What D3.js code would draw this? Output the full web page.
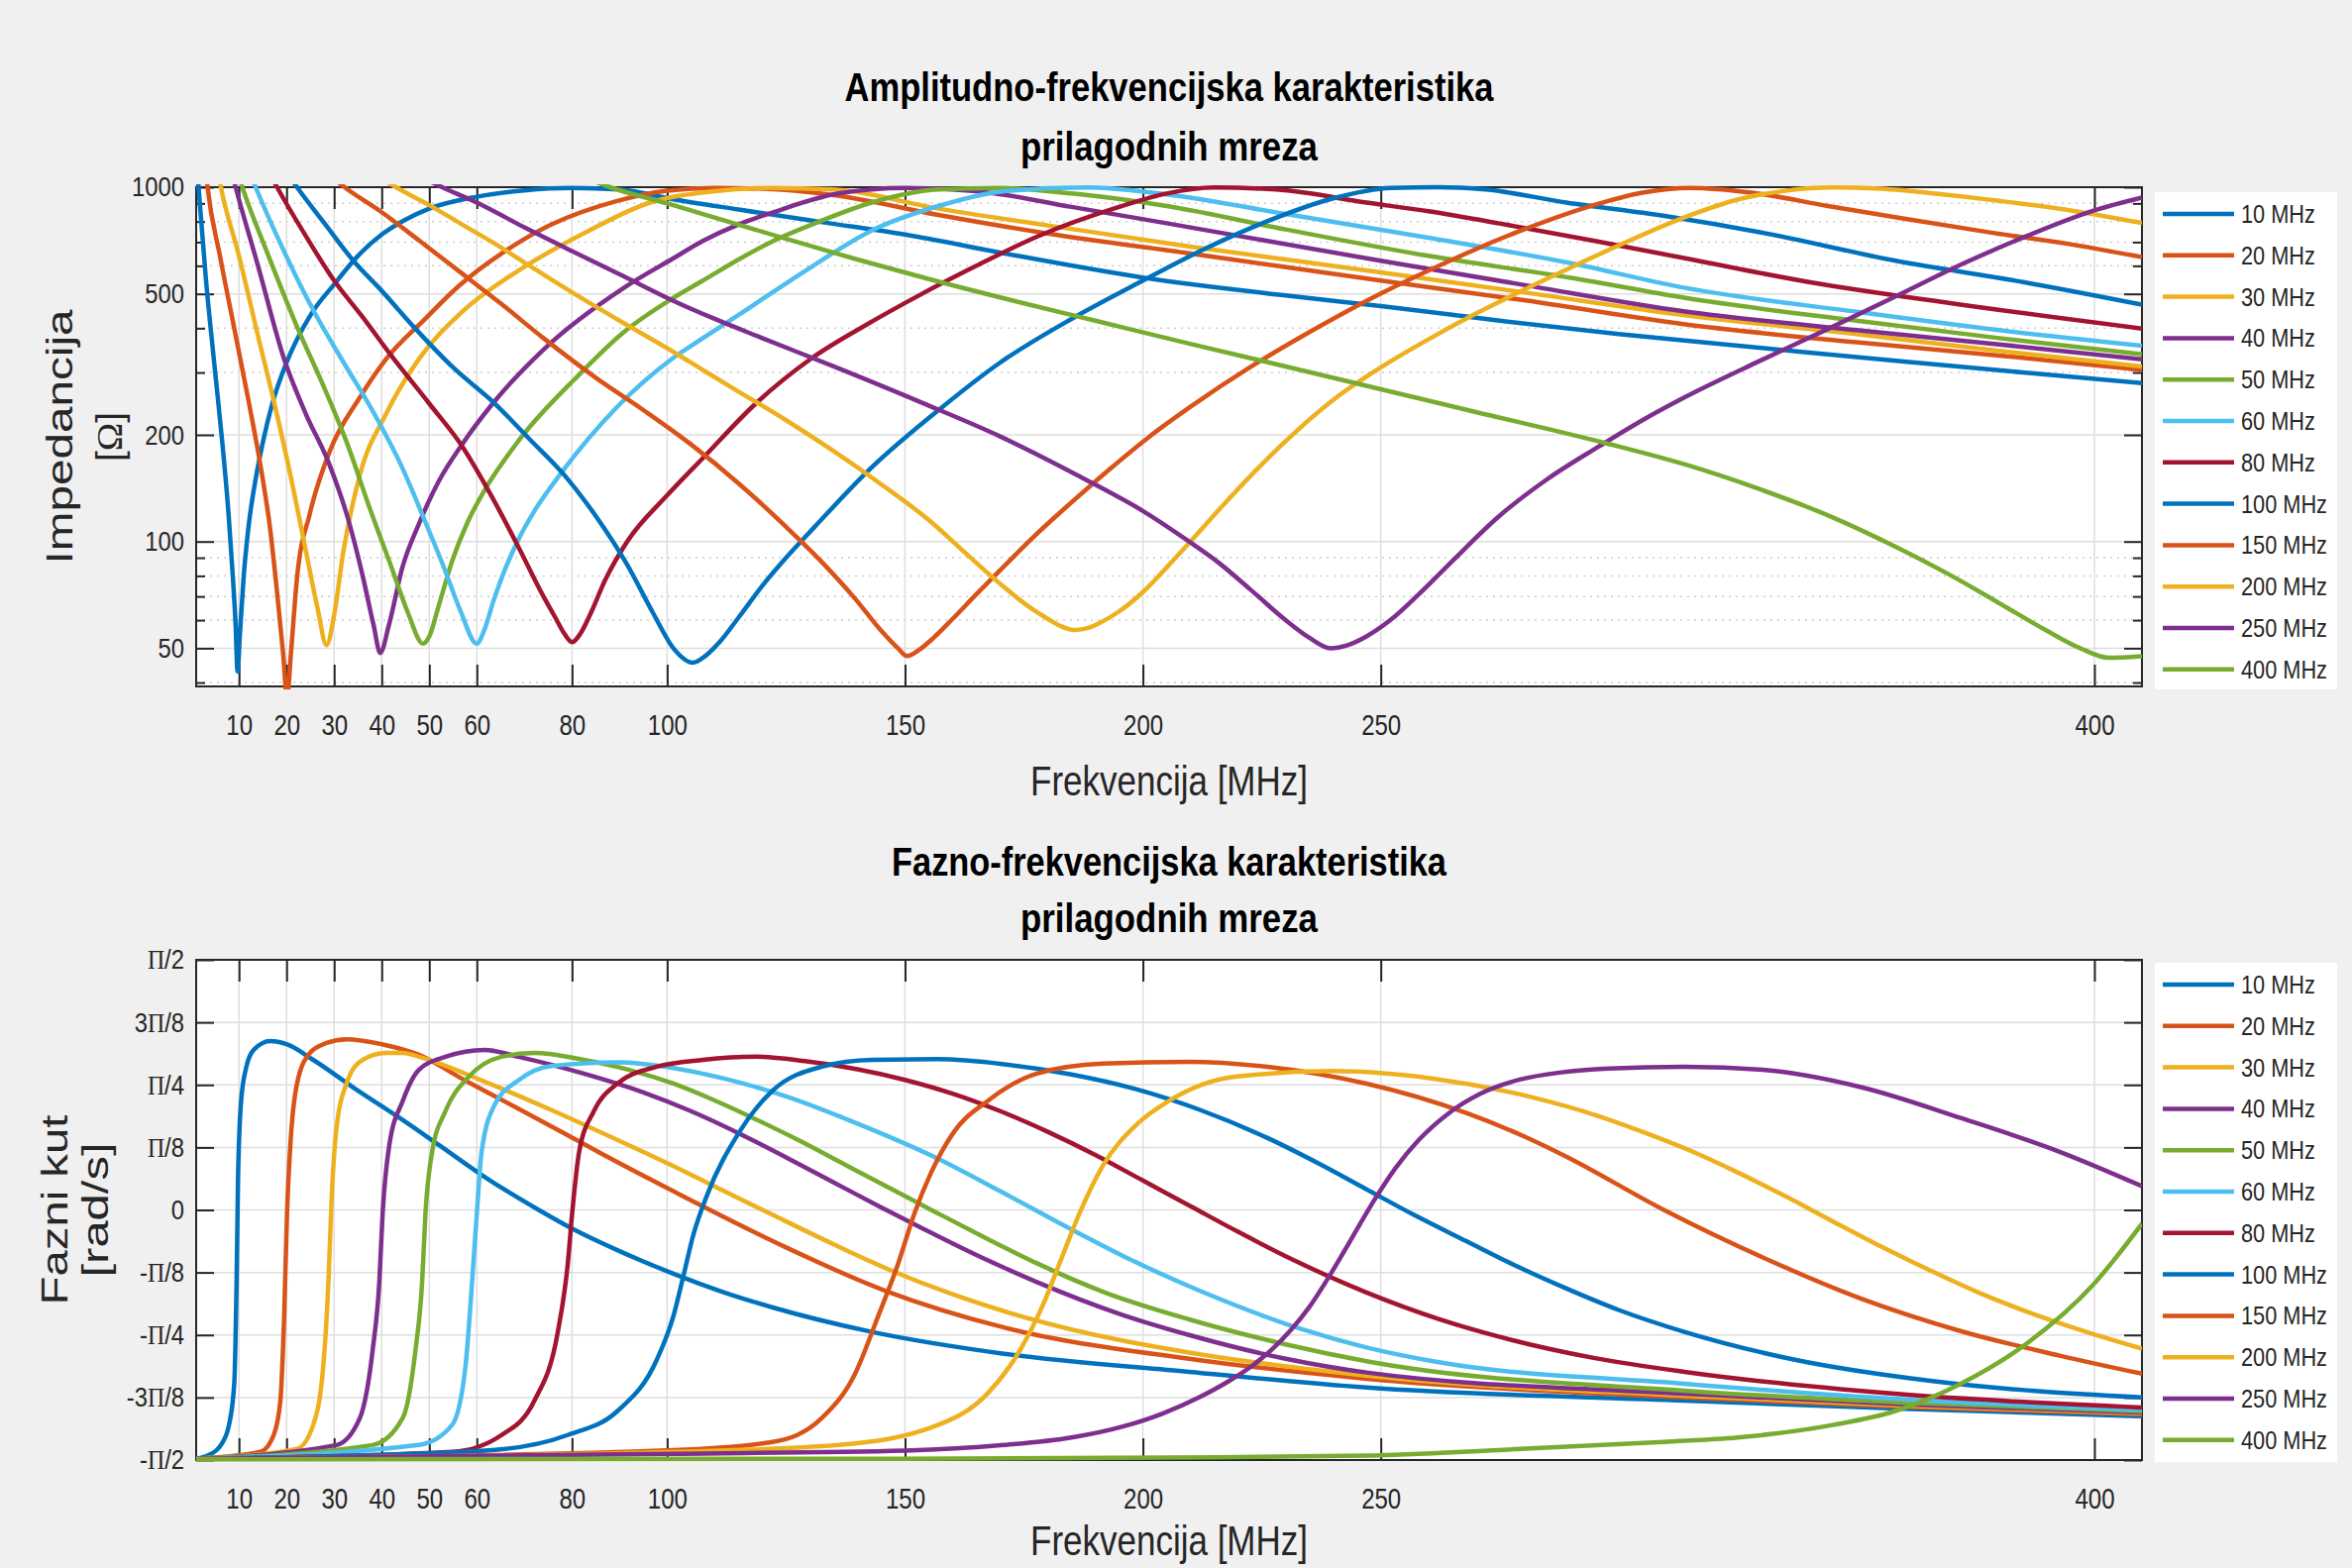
<!DOCTYPE html>
<html>
<head>
<meta charset="utf-8">
<script src="https://cdn.jsdelivr.net/npm/d3@7"></script>
<style>
  html, body { margin: 0; padding: 0; background: #f0f0f0; }
  svg { display: block; }
</style>
</head>
<body>
<svg id="chart" width="2374" height="1583"></svg>
<script>
// Matching networks: impedance magnitude (log) and phase vs frequency.
// Two stacked panels, 12 designs, MATLAB-style colours and grid.

const LABELS = ['10 MHz', '20 MHz', '30 MHz', '40 MHz', '50 MHz', '60 MHz',
  '80 MHz', '100 MHz', '150 MHz', '200 MHz', '250 MHz', '400 MHz'];
const COLORS = ['#0072BD', '#D95319', '#EDB120', '#7E2F8E', '#77AC30', '#4DBEEE',
  '#A2142F', '#0072BD', '#D95319', '#EDB120', '#7E2F8E', '#77AC30'];

const X_TICKS = [10, 20, 30, 40, 50, 60, 80, 100, 150, 200, 250, 400];
const Z_TICKS = [50, 100, 200, 500, 1000];
const Z_MINOR = [40, 60, 70, 80, 90, 300, 400, 600, 700, 800, 900];
// phase ticks in eighths of pi
const PH_TICKS = [-4, -3, -2, -1, 0, 1, 2, 3, 4];
const PH_LABELS = ['-Π/2', '-3Π/8', '-Π/4', '-Π/8', '0', 'Π/8', 'Π/4', '3Π/8', 'Π/2'];

// |Z| in ohm, [MHz, ohm]
const mag10 = [[1,1250],[1.5,1000],[3,560],[5,300],[6.5,190],[7.8,120],[8.7,80],[9.3,58],[9.7,43],[10.2,55],[11,80],[12,110],[13.5,150],[15,190],[17,245],[20,320],[25,435],[30,532],[35,640],[40,735],[45,810],[50,870],[60,940],[70,980],[80,995],[90,985],[101,926],[115,865],[133,795],[150,735],[171,650],[200,556],[230,495],[250,462],[275,420],[300,385],[330,352],[360,322],[385,300],[410,280]];
const mag20 = [[1,2500],[3.4,1000],[6,640],[9,400],[12,250],[15,150],[16.5,110],[18,72],[19.3,48],[20.1,36],[20.9,48],[22.2,79],[24.9,120],[29.1,180],[35.4,255],[40.9,327],[49.2,426],[56.2,526],[65.2,650],[75.6,784],[89.5,915],[100,978],[110,995],[120,990],[135,950],[157,835],[180,740],[210,650],[250,545],[280,480],[314,410],[350,365],[380,335],[410,305]];
const mag30 = [[1,3000],[6.2,1000],[10,640],[14,380],[17.3,250],[21,150],[24,95],[26.5,65],[28.4,51],[30,62],[31.9,93],[35.4,154],[40.9,229],[47.8,327],[56.9,445],[68.7,581],[82.5,741],[96.4,905],[110,975],[122,995],[135,985],[157,870],[180,780],[210,680],[250,575],[280,505],[314,435],[350,385],[380,345],[410,312]];
const mag40 = [[1,3000],[9.3,1000],[14,600],[19.4,330],[24,230],[29,165],[33,115],[36,80],[38.3,58],[39.7,48.5],[41.5,58],[44.4,85],[47.8,112],[52,148],[56.9,188],[63.1,243],[74.2,350],[90.9,520],[101.3,630],[107.5,705],[115,785],[122,847],[136,960],[150,995],[165,975],[185,880],[210,770],[250,620],[280,530],[314,446],[350,395],[380,360],[410,327]];
const mag50 = [[1,3000],[10.7,1000],[16,650],[22,410],[28,270],[33,185],[37.4,125],[42,85],[45.5,63],[48.7,51.5],[50,54],[52,66],[54.8,88],[58,113],[61.7,140],[68.7,192],[81.2,293],[90.9,390],[101.3,487],[107.5,545],[115,625],[122,702],[132,800],[143,905],[157,985],[170,995],[185,960],[205,885],[230,760],[260,640],[290,555],[314,487],[350,420],[380,375],[410,338]];
const mag60 = [[1,3000],[13.5,1000],[19,680],[25.6,450],[32,320],[38,235],[44,165],[49,115],[53,85],[56.5,64],[60,51.5],[61.5,56],[63.5,68],[66,84],[69,103],[72.1,122],[77.7,156],[89.5,240],[101.3,330],[107.5,375],[115,436],[129,580],[143,755],[157,885],[171,975],[188,998],[205,955],[230,840],[260,720],[290,610],[314,520],[350,445],[380,395],[410,357]];
const mag80 = [[1,3000],[18,1000],[24,730],[30,545],[36,430],[42,335],[50,245],[57,185],[63,135],[69,95],[74,70],[76.5,61],[78.3,55.2],[80,52],[81.7,54.8],[84,63],[87,78],[91.6,100],[100,135],[107.5,172],[118.6,245],[130.5,330],[142,410],[152.7,493],[165,600],[177.7,725],[195,880],[205,960],[215,998],[228,985],[247,905],[260,855],[275,790],[295,705],[314,630],[340,540],[370,470],[410,399]];
const mag100 = [[1,3000],[22.2,1000],[28,790],[34,621],[40,510],[47,400],[55,310],[63.8,245],[71,195],[78.4,154],[85,118],[91.6,86],[97,63],[101.3,50],[105.4,45.5],[108,47.5],[111,52],[115,61],[120,75],[125,90],[131,110],[142.6,160],[157.9,240],[170,320],[185,425],[200,545],[213,670],[226,800],[240,930],[252,995],[262,1000],[272,985],[289,905],[310,828],[330,745],[358,621],[385,540],[410,466]];
const mag150 = [[1,3000],[32.2,1000],[40,850],[48,705],[56.2,580],[65,470],[74,375],[85,290],[95,235],[105,188],[115,146],[125,110],[132,89],[139.5,69],[145,56],[148.5,50],[150.4,47.5],[153,49.5],[156,53.5],[160,60.5],[165,71],[170,83],[177,103],[185,129],[193,160],[201,196],[210,240],[222.8,312],[235,390],[247,478],[261,590],[279,750],[296,900],[305,965],[315,995],[328,965],[344,885],[360,815],[379,742],[395,690],[410,635]];
const mag200 = [[1,3000],[43,1000],[50,890],[56.9,785],[64,690],[70.7,605],[80,505],[90,420],[101.3,343],[107.5,305],[115,265],[125,220],[135,180],[145,145],[155,115],[163,92],[170,76],[176,65.5],[180,60.5],[183,57.5],[185.5,56.3],[188,56.8],[191,59],[195,63.5],[200,72],[205,84.5],[210,100],[216,123],[223,155],[230,192],[240,251],[250,310],[260,372],[270,440],[280,513],[290,594],[300,685],[314,824],[325,923],[335,977],[345,998],[355,990],[368,955],[380,915],[395,860],[410,793]];
const mag250 = [[1,3000],[52.7,1000],[60,905],[70,770],[80,660],[90.9,560],[101.3,478],[110,425],[120,375],[135,312],[153.7,246],[170,198],[187,152],[200,122],[209.7,100],[216,87],[222.7,73],[230,60],[235,53.5],[239.4,50],[243,51],[247,54],[252,60],[258,71],[265,88],[274.9,118],[285,150],[295.7,185],[305,220],[313.8,255],[330,325],[344,398],[358,490],[372,605],[386,730],[400,860],[410,935]];
const mag400 = [[1,3000],[60,1500],[88,1000],[101.3,890],[107.5,840],[125,715],[140,625],[156.2,545],[175,470],[190,420],[209.7,362],[230,312],[247,275],[270,232],[297,190],[314,165],[330,140],[345,117],[358,97],[370,80],[380,67],[390,56],[397,50],[403,47],[410,47.5]];

// phase, [MHz, eighths of pi]
const ph10 = [[1,-3.98],[3.4,-3.93],[6.2,-3.76],[7.9,-3.44],[9.0,-2.78],[9.5,-1.14],[9.8,0.49],[10.4,1.69],[11.4,2.24],[13.1,2.56],[16.6,2.70],[20,2.65],[25.6,2.40],[34,1.96],[44.4,1.44],[52,1.04],[62.4,0.49],[73,0],[80.8,-0.33],[90,-0.66],[101.3,-1.02],[112,-1.32],[122.2,-1.56],[143,-1.95],[170.8,-2.3],[209.7,-2.59],[247,-2.84],[313.8,-3.05],[360,-3.18],[410,-3.3]];
const ph20 = [[1,-3.98],[14.5,-3.87],[17.3,-3.6],[18.7,-3.05],[19.5,-1.69],[20.1,-0.05],[20.8,1.04],[22.2,2.02],[24.9,2.51],[28.4,2.67],[32.6,2.73],[40,2.65],[47.8,2.48],[58,2.05],[68.7,1.62],[78,1.24],[86.7,0.88],[101.3,0.3],[110,-0.04],[125,-0.6],[146.1,-1.3],[170.8,-1.88],[209.7,-2.38],[247,-2.7],[313.8,-3.0],[360,-3.15],[410,-3.27]];
const ph30 = [[1,-3.98],[22.2,-3.82],[25.6,-3.44],[27.7,-2.51],[28.8,-1.15],[29.5,0.22],[30.5,1.31],[32.6,2.02],[36,2.4],[40.9,2.51],[44.4,2.51],[47.8,2.45],[61.7,2.05],[75.6,1.6],[89.5,1.12],[101.3,0.7],[112,0.3],[122.2,-0.08],[135,-0.55],[146.5,-0.95],[160,-1.35],[170.8,-1.62],[190,-2.0],[209.7,-2.28],[247,-2.65],[313.8,-2.97],[360,-3.13],[410,-3.25]];
const ph40 = [[1,-3.98],[30.5,-3.76],[35.4,-3.33],[38.1,-2.24],[39.5,-1.15],[40.2,-0.05],[41.6,1.04],[44.4,1.74],[47.8,2.24],[53.4,2.45],[61.7,2.56],[68.7,2.45],[82.5,2.18],[95,1.88],[105,1.58],[115.2,1.22],[125,0.84],[135,0.44],[145,0.04],[153.3,-0.28],[165,-0.72],[177.6,-1.15],[195,-1.66],[209.7,-2.0],[230,-2.38],[247,-2.6],[313.8,-2.94],[360,-3.11],[410,-3.24]];
const ph50 = [[1,-3.98],[38.1,-3.76],[44.4,-3.33],[47.1,-2.24],[48.5,-1.15],[49.2,-0.05],[50.6,0.93],[53.4,1.58],[58.3,2.13],[65.2,2.45],[72.1,2.51],[82.5,2.4],[92,2.24],[101.3,2.02],[110,1.75],[118.6,1.45],[128,1.1],[136,0.78],[146,0.38],[156.8,-0.05],[167,-0.45],[177.6,-0.85],[192,-1.32],[209.7,-1.75],[230,-2.15],[247,-2.42],[313.8,-2.89],[360,-3.08],[410,-3.22]];
const ph60 = [[1,-3.98],[47.8,-3.76],[54.8,-3.44],[57.6,-2.51],[59,-1.15],[60,-0.05],[61,0.93],[63.8,1.69],[68.7,2.07],[75.6,2.3],[89.5,2.36],[101.3,2.27],[112,2.1],[125.6,1.8],[140,1.38],[156.9,0.82],[170,0.3],[184.7,-0.3],[197,-0.78],[209.7,-1.22],[222,-1.6],[233.1,-1.9],[247,-2.2],[261,-2.42],[313.8,-2.78],[360,-3.03],[410,-3.2]];
const ph80 = [[1,-3.98],[54.8,-3.87],[65.2,-3.6],[72.1,-3.05],[77,-1.96],[79.1,-0.87],[80.1,0],[81.5,0.93],[84.6,1.58],[89.5,2.02],[97.8,2.29],[107.5,2.4],[118.6,2.45],[129,2.38],[140,2.25],[150,2.08],[160,1.86],[170,1.58],[180,1.25],[190,0.88],[200,0.47],[210,0.06],[220,-0.35],[230,-0.74],[247,-1.32],[262,-1.74],[275,-2.03],[295,-2.37],[313.8,-2.59],[358,-2.94],[410,-3.16]];
const ph100 = [[1,-3.98],[61.7,-3.85],[79.1,-3.6],[89.5,-3.22],[97.8,-2.4],[101.3,-1.7],[103.4,-1.06],[105.5,-0.4],[108.3,0.22],[115.2,1.25],[122.2,1.91],[132.5,2.29],[143,2.4],[156.9,2.41],[170.8,2.33],[184.7,2.17],[198.6,1.93],[212,1.6],[226.2,1.15],[237,0.74],[247,0.33],[257,-0.08],[268,-0.5],[278,-0.88],[288.8,-1.25],[300,-1.6],[313.8,-1.95],[337.3,-2.4],[365.1,-2.73],[410,-3.0]];
const ph150 = [[1,-3.98],[101.3,-3.84],[122.2,-3.71],[132.5,-3.33],[139.5,-2.62],[144.4,-1.69],[148.5,-0.87],[152,-0.05],[155.5,0.6],[160.3,1.25],[167.3,1.74],[177.7,2.18],[191.6,2.34],[209.7,2.37],[226.2,2.29],[247,2.02],[268,1.55],[280,1.18],[288.8,0.86],[309.5,0],[330.3,-0.76],[351,-1.42],[372,-1.94],[392.7,-2.33],[410,-2.62]];
const ph200 = [[1,-3.98],[101.3,-3.87],[136,-3.76],[156.9,-3.44],[167.3,-2.94],[174.2,-2.24],[179.1,-1.5],[182.5,-0.85],[186.7,-0.05],[191.6,0.71],[198.6,1.36],[205.4,1.74],[219.3,2.13],[240,2.22],[261,2.1],[281.9,1.8],[295,1.52],[305,1.25],[315,0.95],[325,0.6],[335,0.22],[344.2,-0.15],[355,-0.58],[365,-0.95],[375,-1.3],[385.9,-1.63],[397,-1.92],[410,-2.22]];
const ph250 = [[1,-3.98],[101.3,-3.9],[150,-3.85],[170.8,-3.76],[185,-3.64],[196,-3.46],[204,-3.26],[212,-2.99],[218,-2.74],[223,-2.49],[227,-2.24],[231,-1.93],[235,-1.55],[239.5,-1.02],[244,-0.44],[248.5,0.14],[253,0.66],[258,1.12],[264,1.53],[271,1.86],[279,2.08],[288,2.2],[298,2.26],[313.8,2.29],[330.3,2.24],[351.1,1.96],[371.9,1.47],[392.7,0.93],[410,0.38]];
const ph400 = [[1,-3.99],[150,-3.98],[205.4,-3.96],[247,-3.93],[274.9,-3.84],[309.5,-3.71],[325,-3.64],[345,-3.44],[358,-3.22],[371.9,-2.78],[385.9,-2.13],[399.7,-1.2],[410,-0.22]];

const MAG = [mag10, mag20, mag30, mag40, mag50, mag60, mag80, mag100, mag150, mag200, mag250, mag400];
const PHASE = [ph10, ph20, ph30, ph40, ph50, ph60, ph80, ph100, ph150, ph200, ph250, ph400];

const W = 2374, H = 1583;
const INK = '#262626';
const FONT = "'Liberation Sans', Arial, Helvetica, sans-serif";
const SERIF = "'Liberation Serif', 'DejaVu Serif', serif";

const svg = d3.select('#chart');
svg.append('rect').attr('width', W).attr('height', H).attr('fill', '#f0f0f0');

const x = d3.scaleLinear().domain([1, 410]).range([198, 2162]);

// greek letters come out of TeX in the original, so set them in a serif face
function richText(sel, str) {
  str.split(/([ΠΩ])/).filter(s => s.length).forEach(part => {
    const t = sel.append('tspan').text(part);
    if (part === 'Π' || part === 'Ω') t.attr('font-family', SERIF);
  });
  return sel;
}

// the source picture is a bit squashed sideways, so narrow the glyphs
function squeeze(sel, k) {
  sel.each(function() {
    const len = this.getComputedTextLength();
    d3.select(this).attr('textLength', (len * k).toFixed(1)).attr('lengthAdjust', 'spacingAndGlyphs');
  });
}

function fitText(sel, w) {
  return sel.attr('textLength', w).attr('lengthAdjust', 'spacingAndGlyphs');
}

function drawPanel(p) {
  const [x0, x1] = x.range();
  const g = svg.append('g');

  g.append('rect')
    .attr('x', x0).attr('y', p.top)
    .attr('width', x1 - x0).attr('height', p.bottom - p.top)
    .attr('fill', '#fff');

  // grid
  const grid = g.append('g');
  grid.selectAll('line.minor').data(p.minor).join('line')
    .attr('class', 'minor')
    .attr('x1', x0).attr('x2', x1)
    .attr('y1', d => p.y(d)).attr('y2', d => p.y(d))
    .attr('stroke', '#cdcdcd').attr('stroke-width', 1.5).attr('stroke-dasharray', '2,5');
  grid.selectAll('line.hmajor').data(p.grid).join('line')
    .attr('class', 'hmajor')
    .attr('x1', x0).attr('x2', x1)
    .attr('y1', d => p.y(d)).attr('y2', d => p.y(d))
    .attr('stroke', '#dedede').attr('stroke-width', 1.5);
  grid.selectAll('line.vmajor').data(X_TICKS).join('line')
    .attr('class', 'vmajor')
    .attr('x1', d => x(d)).attr('x2', d => x(d))
    .attr('y1', p.top).attr('y2', p.bottom)
    .attr('stroke', '#dedede').attr('stroke-width', 1.5);

  // axes box + ticks (ticks point inward, on all four sides)
  g.append('rect')
    .attr('x', x0).attr('y', p.top)
    .attr('width', x1 - x0).attr('height', p.bottom - p.top)
    .attr('fill', 'none').attr('stroke', INK).attr('stroke-width', 2);

  const axB = g.append('g').attr('transform', `translate(0,${p.bottom})`)
    .call(d3.axisBottom(x).tickValues(X_TICKS).tickSizeInner(-22).tickSizeOuter(0).tickPadding(28));
  const axT = g.append('g').attr('transform', `translate(0,${p.top})`)
    .call(d3.axisTop(x).tickValues(X_TICKS).tickSizeInner(-22).tickSizeOuter(0).tickFormat(''));
  const axL = g.append('g').attr('transform', `translate(${x0},0)`)
    .call(d3.axisLeft(p.y).tickValues(p.ticks).tickSizeInner(-18).tickSizeOuter(0).tickPadding(12).tickFormat(() => ''));
  const axR = g.append('g').attr('transform', `translate(${x1},0)`)
    .call(d3.axisRight(p.y).tickValues(p.ticks).tickSizeInner(-18).tickSizeOuter(0).tickFormat(''));
  const axes = [axB, axT, axL, axR];
  if (p.minor.length) {
    axes.push(g.append('g').attr('transform', `translate(${x0},0)`)
      .call(d3.axisLeft(p.y).tickValues(p.minor).tickSizeInner(-9).tickSizeOuter(0).tickFormat('')));
    axes.push(g.append('g').attr('transform', `translate(${x1},0)`)
      .call(d3.axisRight(p.y).tickValues(p.minor).tickSizeInner(-9).tickSizeOuter(0).tickFormat('')));
  }
  axes.forEach(a => {
    a.select('.domain').remove();
    a.selectAll('.tick line').attr('stroke', INK).attr('stroke-width', 2);
    a.attr('font-family', FONT);
  });

  axB.attr('font-size', 30);
  axB.selectAll('.tick text').attr('fill', INK);
  squeeze(axB.selectAll('.tick text'), 0.8);

  axL.attr('font-size', 28);
  axL.selectAll('.tick text').attr('fill', INK)
    .each(function(d, i) { richText(d3.select(this), p.labels[i]); });
  squeeze(axL.selectAll('.tick text'), 0.85);

  // data
  const clipId = 'clip-' + p.key;
  svg.append('clipPath').attr('id', clipId).append('rect')
    .attr('x', x0).attr('y', p.top - 3)
    .attr('width', x1 - x0).attr('height', p.bottom - p.top + 6);

  const line = d3.line()
    .x(d => x(d[0]))
    .y(d => p.y(d[1]))
    .curve(d3.curveMonotoneX);

  g.append('g').attr('clip-path', `url(#${clipId})`)
    .selectAll('path').data(p.series).join('path')
    .attr('d', line)
    .attr('fill', 'none')
    .attr('stroke', (d, i) => COLORS[i])
    .attr('stroke-width', 4.5)
    .attr('stroke-linejoin', 'round');

  // titles and labels
  const cx = (x0 + x1) / 2;
  p.title.forEach((t, i) => {
    fitText(g.append('text')
      .attr('x', cx).attr('y', p.titleY[i])
      .attr('text-anchor', 'middle')
      .attr('font-family', FONT).attr('font-weight', 'bold').attr('font-size', 41)
      .attr('fill', '#000')
      .text(t), p.titleW[i]);
  });

  fitText(g.append('text')
    .attr('x', cx).attr('y', p.xlabelY)
    .attr('text-anchor', 'middle')
    .attr('font-family', FONT).attr('font-size', 42).attr('fill', INK)
    .text('Frekvencija [MHz]'), 280);

  const cy = (p.top + p.bottom) / 2;
  p.ylabel.forEach((t, i) => {
    const txt = g.append('text')
      .attr('transform', `translate(${p.ylabelX[i]},${cy}) rotate(-90)`)
      .attr('text-anchor', 'middle')
      .attr('dy', '0.36em')
      .attr('font-family', FONT).attr('font-size', 36).attr('fill', INK);
    richText(txt, t);
    fitText(txt, p.ylabelW[i]);
  });

  drawLegend(p.legendTop, p.legendH);
}

function drawLegend(top, h) {
  const lg = svg.append('g');
  lg.append('rect')
    .attr('x', 2175).attr('y', top)
    .attr('width', 184).attr('height', h)
    .attr('fill', '#fff');
  LABELS.forEach((lab, i) => {
    const yy = top + 22 + i * 41.8;
    lg.append('line')
      .attr('x1', 2183).attr('x2', 2255)
      .attr('y1', yy).attr('y2', yy)
      .attr('stroke', COLORS[i]).attr('stroke-width', 4.5);
    lg.append('text')
      .attr('x', 2262).attr('y', yy).attr('dy', '0.36em')
      .attr('font-family', FONT).attr('font-size', 25).attr('fill', INK)
      .text(lab);
  });
  squeeze(lg.selectAll('text'), 0.87);
}

// top panel: impedance magnitude
drawPanel({
  key: 'mag',
  top: 189, bottom: 693,
  y: d3.scaleLog().domain([39, 1000]).range([693, 189]),
  ticks: Z_TICKS,
  labels: Z_TICKS.map(String),
  grid: Z_TICKS.slice(0, -1),
  minor: Z_MINOR,
  series: MAG,
  title: ['Amplitudno-frekvencijska karakteristika', 'prilagodnih mreza'],
  titleY: [102, 162],
  titleW: [655, 300],
  xlabelY: 803,
  ylabel: ['Impedancija', '[Ω]'],
  ylabelX: [60, 110],
  ylabelW: [257, 50],
  legendTop: 194, legendH: 502
});

// bottom panel: phase
drawPanel({
  key: 'phase',
  top: 969, bottom: 1474,
  y: d3.scaleLinear().domain([-4, 4]).range([1474, 969]),
  ticks: PH_TICKS,
  labels: PH_LABELS,
  grid: PH_TICKS.slice(1, -1),
  minor: [],
  series: PHASE,
  title: ['Fazno-frekvencijska karakteristika', 'prilagodnih mreza'],
  titleY: [884, 941],
  titleW: [560, 300],
  xlabelY: 1570,
  ylabel: ['Fazni kut', '[rad/s]'],
  ylabelX: [55, 96],
  ylabelW: [192, 136],
  legendTop: 972, legendH: 504
});
</script>
</body>
</html>
